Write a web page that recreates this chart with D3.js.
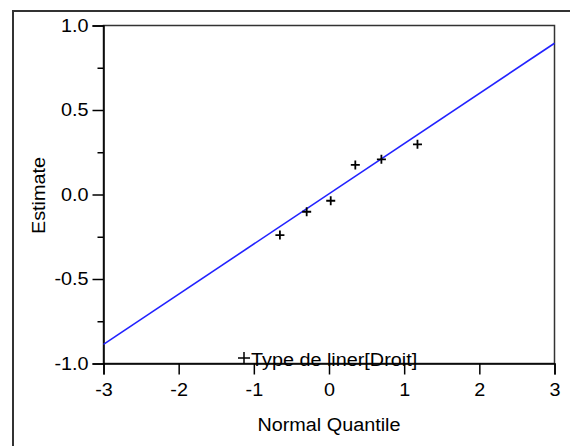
<!DOCTYPE html>
<html><head><meta charset="utf-8">
<script src="https://cdn.jsdelivr.net/npm/d3@7"></script>
<style>body{margin:0;background:#fff}svg{display:block}text{font-family:"Liberation Sans",Arial,sans-serif;fill:#000}</style>
</head><body><svg id="c" width="570" height="446"></svg>
<script>
const quantiles = [-0.653, -0.297, 0.023, 0.35, 0.697, 1.177];
const estimates = [-0.24, -0.102, -0.037, 0.175, 0.208, 0.297];
const fitIntercept = 0.004, fitSlope = 0.297;
const xTicks = [-3, -2, -1, 0, 1, 2, 3];
const yTicks = [-1.0, -0.5, 0.0, 0.5, 1.0];
const yMinor = [-0.75, -0.25, 0.25, 0.75];
const xTitle = "Normal Quantile", yTitle = "Estimate", legendLabel = "Type de liner[Droit]";

const svg = d3.select("#c");
const L = 103.5, R = 554.5, T = 25.5, B = 363.5;
const x = d3.scaleLinear().domain([-3, 3]).range([L, R]);
const y = d3.scaleLinear().domain([-1, 1]).range([B, T]);
const FS = 18, STRETCH = 1.1;

// outer frame
svg.append("rect").attr("x", 13).attr("y", 11).attr("width", 620).attr("height", 500)
  .attr("fill", "none").attr("stroke", "#333").attr("stroke-width", 2);

// plot frame
svg.append("rect").attr("x", L).attr("y", T).attr("width", R - L).attr("height", B - T)
  .attr("fill", "none").attr("stroke", "#333").attr("stroke-width", 1.5);

// y axis
svg.append("g").attr("transform", `translate(${L},0)`)
  .call(d3.axisLeft(y).tickValues(yTicks).tickFormat(d => d.toFixed(1)).tickSize(11).tickPadding(4));
svg.append("g").attr("transform", `translate(${L},0)`)
  .call(d3.axisLeft(y).tickValues(yMinor).tickFormat("").tickSize(6))
  .select(".domain").remove();
// x axis
svg.append("g").attr("transform", `translate(0,${B})`)
  .call(d3.axisBottom(x).tickValues(xTicks).tickFormat(d => String(d)).tickSize(11).tickPadding(9));
svg.selectAll(".tick line").attr("stroke", "#000").attr("stroke-width", 1.5);
svg.selectAll(".domain").attr("stroke", "#000").attr("stroke-width", 1.5);
svg.selectAll("g").attr("font-size", null).attr("font-family", null);
svg.selectAll(".tick text").attr("font-size", FS).attr("fill", "#000");

// fit line
svg.append("line")
  .attr("x1", x(-3)).attr("y1", y(fitIntercept + fitSlope * -3))
  .attr("x2", x(3)).attr("y2", y(fitIntercept + fitSlope * 3))
  .attr("stroke", "#2222ff").attr("stroke-width", 1.6);

// points
const pts = svg.append("g");
quantiles.forEach((q, i) => {
  const cx = x(q), cy = y(estimates[i]);
  pts.append("path").attr("d", `M${cx-4.5},${cy}H${cx+4.5}M${cx},${cy-4.5}V${cy+4.5}`)
    .attr("stroke", "#000").attr("stroke-width", 1.8);
});

// legend
const lx = 244, ly = 358;
svg.append("path").attr("d", `M${lx-6},${ly}H${lx+6}M${lx},${ly-6}V${ly+6}`)
  .attr("stroke", "#000").attr("stroke-width", 1.5);
svg.append("text").attr("x", 251).attr("y", 366).attr("font-size", FS).text(legendLabel);

// titles
svg.append("text").attr("x", x(0)).attr("y", 431).attr("text-anchor", "middle").attr("font-size", FS).text(xTitle);
svg.append("text").attr("transform", `translate(45,${(T+B)/2 + 1}) rotate(-90)`).attr("text-anchor", "middle").attr("font-size", FS).text(yTitle);

// horizontal widening of glyphs to match the reference's font
svg.selectAll("text").each(function() {
  const w = this.getComputedTextLength();
  d3.select(this).attr("textLength", w * STRETCH).attr("lengthAdjust", "spacingAndGlyphs");
});
</script></body></html>
